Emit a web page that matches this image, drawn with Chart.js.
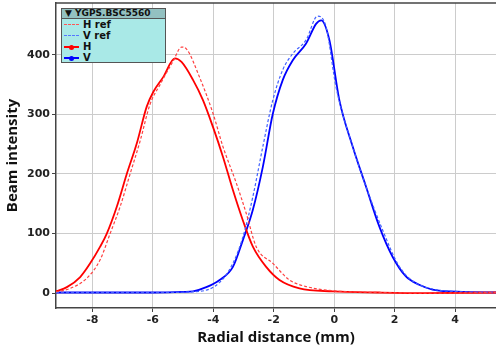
<!DOCTYPE html>
<html>
<head>
<meta charset="utf-8">
<script src="https://cdn.jsdelivr.net/npm/chart.js@4.4.1/dist/chart.umd.min.js"></script>
<style>
  body { margin: 0; background: #fff; }
  #wrap { position: relative; width: 496px; height: 351px; }
  #legend {
    position: absolute; left: 61px; top: 8px; width: 105px; height: 55px;
    background: #a9e9e7; border: 1px solid #555; box-sizing: border-box;
    font: bold 10px "DejaVu Sans", sans-serif; color: #111;
  }
  #legend .hdr { height: 9px; background: #93c1c1; border-bottom: 1px solid #555; line-height: 9px; padding-left: 3px; font-size: 9px; }
  #legend .row { height: 11px; line-height: 11px; position: relative; padding-left: 21px; }
  #legend .sym { position: absolute; left: 2px; top: 5px; width: 15px; }
  #legend .dot { position: absolute; left: 5px; top: -3px; width: 5px; height: 5px; border-radius: 3px; }
</style>
</head>
<body>
<div id="wrap">
  <canvas id="chart" width="496" height="351"></canvas>
  <div id="legend">
    <div class="hdr">&#9660; YGPS.BSC5560</div>
    <div class="row"><span class="sym" style="border-top:1px dashed #ff5555"></span>H ref</div>
    <div class="row"><span class="sym" style="border-top:1px dashed #5577ff"></span>V ref</div>
    <div class="row"><span class="sym" style="border-top:2px solid #ff0000"><span class="dot" style="background:#ff0000"></span></span>H</div>
    <div class="row"><span class="sym" style="border-top:2px solid #0000ff"><span class="dot" style="background:#0000ff"></span></span>V</div>
  </div>
</div>
<script>
// radial distance (mm) and beam intensity per trace
let hX = [-9.2, -8.84, -8.4, -8.07, -7.74, -7.52, -7.19, -6.86, -6.53, -6.2, -5.98, -5.65, -5.27, -5.05, -4.67, -4.34, -4.01, -3.68, -3.35, -3.02, -2.69, -2.25, -1.81, -1.15, -0.05, 1.5, 3, 5.35];
let hY = [3, 10, 27, 50, 78, 100, 145, 200, 251, 313, 338, 363, 394, 388, 358, 324, 279, 229, 173, 122, 78, 44, 22, 8, 3, 1, 0, 1];

let hRefX = [-9.2, -8.73, -8.18, -7.74, -7.41, -7.08, -6.75, -6.42, -6.09, -5.76, -5.32, -5.05, -4.89, -4.45, -4.01, -3.68, -3.24, -2.91, -2.58, -2.03, -1.48, -0.93, -0.05, 1.5, 3, 5.35];
let hRefY = [2, 8, 25, 56, 100, 145, 200, 255, 317, 350, 390, 413, 410, 362, 302, 246, 185, 134, 78, 50, 22, 11, 4, 1, 0, 1];

let vX = [-9.2, -8, -6, -5, -4.67, -4.23, -3.79, -3.35, -3.02, -2.69, -2.36, -2.03, -1.7, -1.37, -0.93, -0.6, -0.43, -0.16, 0.17, 0.61, 1.05, 1.49, 1.93, 2.37, 2.81, 3.25, 4.35, 5.35];
let vY = [1, 1, 1, 2, 3, 10, 22, 44, 89, 140, 212, 301, 358, 391, 419, 452, 458, 425, 324, 246, 179, 112, 61, 28, 14, 6, 2, 1];

let vRefX = [-9.2, -6, -4.45, -3.79, -3.35, -3.02, -2.69, -2.36, -2.03, -1.7, -1.37, -0.93, -0.55, -0.27, 0.06, 0.61, 1.05, 1.6, 2.15, 2.81, 4.35, 5.35];
let vRefY = [1, 1, 3, 18, 50, 94, 162, 246, 324, 375, 402, 425, 465, 447, 346, 246, 179, 106, 45, 14, 2, 1];

let xTicks = [-8, -6, -4, -2, 0, 2, 4];
let yTicks = [0, 100, 200, 300, 400];

const pts = (xs, ys) => xs.map((x, i) => ({ x: x, y: ys[i] }));

const tickFont = { family: "DejaVu Sans", size: 11, weight: "bold" };
const titleFont = { family: "Open Sans", size: 15, weight: "bold" };

// dark frame line along the top of the plot area
const topBorder = {
  id: "topBorder",
  afterDraw: (c) => {
    let ctx = c.ctx, a = c.chartArea;
    ctx.save();
    ctx.strokeStyle = "#444";
    ctx.lineWidth = 1.5;
    ctx.beginPath();
    ctx.moveTo(a.left, a.top);
    ctx.lineTo(a.right, a.top);
    ctx.stroke();
    ctx.restore();
  },
};

const config = {
  type: "line",
  data: {
    datasets: [
      { label: "H ref", data: pts(hRefX, hRefY), borderColor: "#ff4040", borderWidth: 1.2, borderDash: [3, 2], pointRadius: 0, cubicInterpolationMode: "monotone" },
      { label: "V ref", data: pts(vRefX, vRefY), borderColor: "#4060ff", borderWidth: 1.2, borderDash: [3, 2], pointRadius: 0, cubicInterpolationMode: "monotone" },
      { label: "H", data: pts(hX, hY), borderColor: "#ff0000", borderWidth: 1.8, pointRadius: 0, cubicInterpolationMode: "monotone" },
      { label: "V", data: pts(vX, vY), borderColor: "#0000ff", borderWidth: 1.8, pointRadius: 0, cubicInterpolationMode: "monotone" },
    ],
  },
  options: {
    responsive: false,
    animation: false,
    layout: { padding: { top: 3, right: 0, left: 0, bottom: 0 } },
    plugins: { legend: { display: false }, tooltip: { enabled: false } },
    scales: {
      x: {
        type: "linear",
        min: -9.2,
        max: 5.35,
        afterBuildTicks: (s) => { s.ticks = xTicks.map((v) => ({ value: v })); },
        afterFit: (s) => { s.height = 43; s.paddingLeft = 0; s.paddingRight = 0; },
        ticks: { font: tickFont, color: "#222", padding: 2 },
        grid: { color: "#cccccc", tickColor: "#444", tickLength: 4 },
        border: { color: "#444", width: 1.5 },
        title: { display: true, text: "Radial distance (mm)", font: titleFont, color: "#111", padding: { top: 0 } },
      },
      y: {
        min: -25,
        max: 487,
        afterBuildTicks: (s) => { s.ticks = yTicks.map((v) => ({ value: v })); },
        afterFit: (s) => { s.width = 56; s.paddingTop = 0; s.paddingBottom = 0; },
        ticks: { font: tickFont, color: "#222", padding: 2 },
        grid: { color: "#cccccc", tickColor: "#444", tickLength: 4 },
        border: { color: "#444", width: 1.5 },
        title: { display: true, text: "Beam intensity", font: titleFont, color: "#111", padding: { bottom: 2 } },
      },
    },
  },
  plugins: [topBorder],
};

let chart = new Chart(document.querySelector("#chart"), config);
</script>
</body>
</html>
